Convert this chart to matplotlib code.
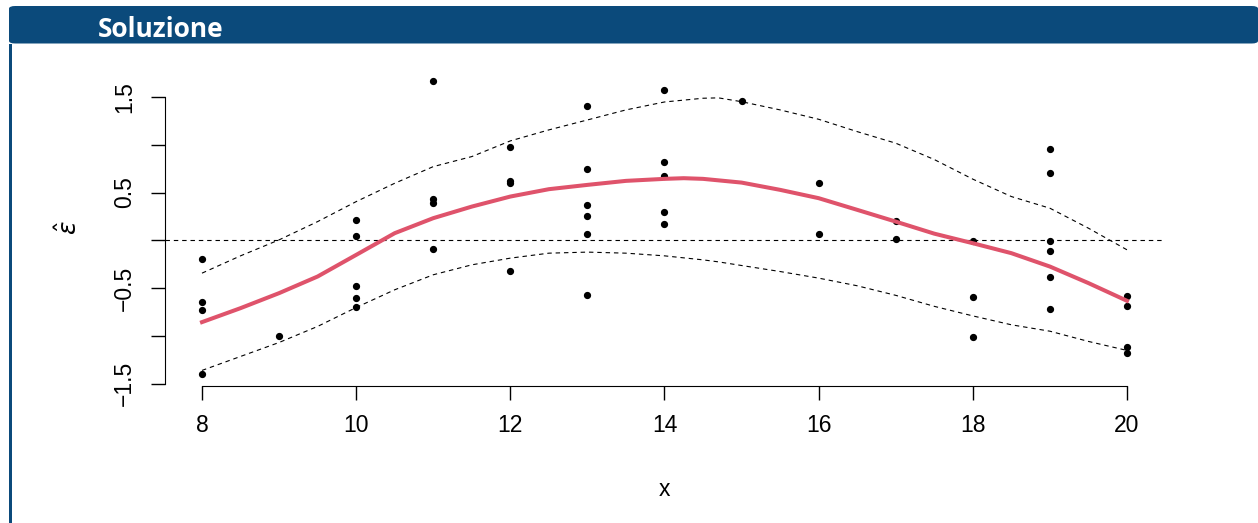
import matplotlib
matplotlib.use("Agg")
import matplotlib.pyplot as plt
from matplotlib.patches import FancyBboxPatch, Rectangle

# residuals
x_pts = [8, 8, 8, 8, 9, 10, 10, 10, 10, 10, 11, 11, 11, 11,
         12, 12, 12, 12, 13, 13, 13, 13, 13, 13, 14, 14, 14, 14, 14,
         15, 16, 16, 17, 17, 18, 18, 18, 19, 19, 19, 19, 19, 19,
         20, 20, 20, 20]
e_pts = [-0.19, -0.64, -0.73, -1.40, -1.00, 0.21, 0.05, -0.48, -0.60, -0.70,
         1.67, 0.43, 0.39, -0.09, 0.98, 0.62, 0.60, -0.32,
         1.41, 0.75, 0.37, 0.25, 0.07, -0.57, 1.57, 0.82, 0.67, 0.30, 0.17,
         1.46, 0.60, 0.07, 0.20, 0.01, -0.01, -0.59, -1.01,
         0.96, 0.70, -0.01, -0.11, -0.38, -0.72, -0.58, -0.69, -1.12, -1.18]

# smooth and its band, read every half unit
x_fit = [8, 8.5, 9, 9.5, 10, 10.5, 11, 11.5, 12, 12.5, 13, 13.5, 14, 14.25,
         14.5, 15, 15.5, 16, 16.5, 17, 17.5, 18, 18.5, 19, 19.5, 20]
e_fit = [-0.855, -0.709, -0.552, -0.378, -0.152, 0.075, 0.232, 0.353, 0.458,
         0.535, 0.58, 0.622, 0.643, 0.65, 0.643, 0.604, 0.528, 0.441, 0.319,
         0.196, 0.07, -0.03, -0.134, -0.274, -0.447, -0.632]
x_band = [8, 8.5, 9, 9.5, 10, 10.5, 11, 11.5, 12, 12.5, 13, 13.5, 14, 14.5,
          14.7, 15, 15.5, 16, 16.5, 17, 17.5, 18, 18.5, 19, 19.5, 20]
upper = [-0.343, -0.162, 0.005, 0.196, 0.405, 0.597, 0.771, 0.876, 1.04,
         1.155, 1.259, 1.364, 1.447, 1.486, 1.49, 1.45, 1.364, 1.266, 1.137,
         1.016, 0.845, 0.64, 0.458, 0.336, 0.127, -0.099]
lower = [-1.36, -1.214, -1.068, -0.9, -0.702, -0.517, -0.36, -0.256, -0.186,
         -0.134, -0.123, -0.134, -0.162, -0.204, -0.225, -0.263, -0.326,
         -0.395, -0.475, -0.575, -0.69, -0.79, -0.883, -0.95, -1.057, -1.151]

xticks = [8, 10, 12, 14, 16, 18, 20]
yticks = [-1.5, -1.0, -0.5, 0.0, 0.5, 1.0, 1.5]
ylabels = ["\u22121.5", "", "\u22120.5", "", "0.5", "", "1.5"]

W, H = 1258, 523
fig = plt.figure(figsize=(W / 100, H / 100), dpi=100)
blue = "#0B4A7B"

# frame: header bar and left border
fig.patches.append(FancyBboxPatch((9 / W, 1 - 43.5 / H), (W - 9) / W, 37.5 / H,
                                  boxstyle="round,pad=0,rounding_size=0.005",
                                  transform=fig.transFigure, fc=blue, ec="none"))
fig.patches.append(Rectangle((9 / W, 0), 3 / W, 1 - 43.5 / H,
                             transform=fig.transFigure, fc=blue, ec="none"))
fig.text(98 / W, 1 - 37 / H, "Soluzione", color="white", fontsize=19,
         fontweight="bold", family="Open Sans", va="baseline", ha="left")

ax = fig.add_axes([165 / W, 1 - 386 / H, 999 / W, 317.5 / H])
ax.set_xlim(7.52, 20.48)
ax.set_ylim(-1.523, 1.797)

dash = (0, (4, 3.5))
ax.plot(x_pts, e_pts, "o", color="black", markersize=4.2, zorder=3)
ax.plot(x_fit, e_fit, color="#DF536B", lw=2.9, zorder=4)
ax.plot(x_band, upper, color="black", lw=0.8, ls=dash)
ax.plot(x_band, lower, color="black", lw=0.8, ls=dash)
ax.axhline(0, color="black", lw=0.8, ls=dash)

for s in ["top", "right"]:
    ax.spines[s].set_visible(False)
ax.spines["left"].set_bounds(-1.5, 1.5)
ax.spines["bottom"].set_bounds(8, 20)
ax.set_xticks(xticks)
ax.set_yticks(yticks)
ax.set_yticklabels(ylabels, rotation=90, va="center")
ax.tick_params(length=10, width=1, labelsize=16.5)
ax.tick_params(axis="x", pad=10)
ax.tick_params(axis="y", pad=11)
for lab in ax.get_xticklabels() + ax.get_yticklabels():
    lab.set_family("Liberation Sans")
ax.set_xlabel("x", fontsize=16.5, family="Liberation Sans", labelpad=30)
ax.set_ylabel(r"$\hat{\varepsilon}$", fontsize=18, labelpad=22)

fig.savefig("out.png", dpi=100)
